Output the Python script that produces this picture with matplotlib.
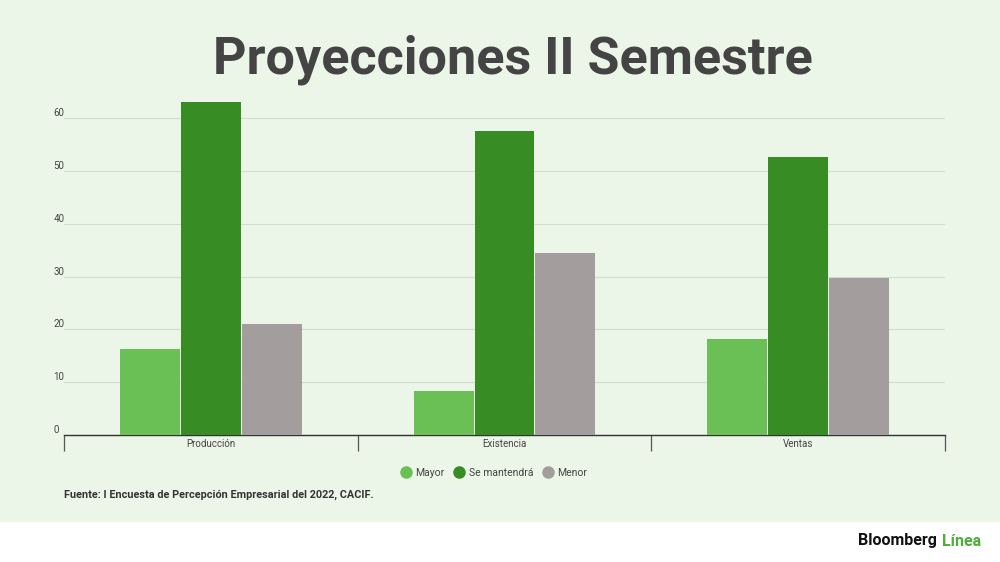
import matplotlib.pyplot as plt
import numpy as np
from matplotlib.lines import Line2D

categories = ["Producción", "Existencia", "Ventas"]
series_names = ["Mayor", "Se mantendrá", "Menor"]
mayor = [16.3, 8.3, 18.2]
mantendra = [63.0, 57.5, 52.6]
menor = [21.0, 34.5, 29.7]
yticks = [0, 10, 20, 30, 40, 50, 60]

colors = ["#6abf55", "#378c23", "#a39e9d"]
bg = "#ebf5e8"
plt.rcParams['font.family'] = ['Roboto', 'DejaVu Sans']

fig = plt.figure(figsize=(10, 5.62), dpi=100)
fig.patch.set_facecolor("white")
# green panel behind the chart, white band at the bottom
fig.patches.append(plt.Rectangle((0, 40 / 562), 1, 1, transform=fig.transFigure,
                                 facecolor=bg, edgecolor="none", zorder=-10))

ax = fig.add_axes([0.064, 0.226, 0.881, 0.611])
ax.set_facecolor(bg)

x = np.arange(len(categories))
w = 0.204
for i, (vals, c) in enumerate(zip([mayor, mantendra, menor], colors)):
    ax.bar(x + (i - 1) * 0.207, vals, width=w, color=c, zorder=3)

ax.set_xlim(-0.5, len(categories) - 0.5)
ax.set_ylim(0, 65)
ax.set_yticks(yticks)
ax.set_yticklabels([str(t) for t in yticks])
ax.grid(axis="y", color="#d3dcd0", linewidth=0.8, zorder=0)
for s in ["top", "right", "left"]:
    ax.spines[s].set_visible(False)
ax.spines["bottom"].set_color("#333333")
ax.spines["bottom"].set_linewidth(1.0)

ax.tick_params(axis="y", length=0, pad=7.5, labelsize=7, labelcolor="#444444")
for lab in ax.get_yticklabels():
    lab.set_ha("left")
    lab.set_va("bottom")

ax.set_xticks(x)
ax.set_xticklabels(categories)
ax.tick_params(axis="x", length=0, pad=3, labelsize=7, labelcolor="#444444")
ax.set_xticks(np.arange(len(categories) + 1) - 0.5, minor=True)
ax.tick_params(axis="x", which="minor", length=11.5, width=0.9, color="#555555")

handles = [Line2D([], [], marker="o", linestyle="none", markersize=8,
                  markerfacecolor=c, markeredgecolor=c) for c in colors]
fig.legend(handles, series_names, loc="center", bbox_to_anchor=(0.494, 1 - 473 / 562),
           ncol=3, frameon=False, fontsize=7.5, handlelength=1.0, handletextpad=0.4,
           columnspacing=0.9, labelcolor="#444444")

fig.text(0.513, 1 - 60 / 562, "Proyecciones II Semestre", ha="center", va="center",
         fontsize=37.5, fontweight="bold", color="#444444")
fig.text(0.064, 1 - 495 / 562, "Fuente: I Encuesta de Percepción Empresarial del 2022, CACIF.",
         ha="left", va="center", fontsize=7.8, fontweight="bold", color="#333333")

fig.text(0.937, 1 - 541 / 562, "Bloomberg", ha="right", va="center", fontsize=11.5,
         fontweight="bold", color="#111111")
fig.text(0.942, 1 - 541 / 562, "Línea", ha="left", va="center", fontsize=11.5,
         fontweight="bold", color="#4caf3a")

fig.savefig("out.png", dpi=100, facecolor=fig.get_facecolor())
